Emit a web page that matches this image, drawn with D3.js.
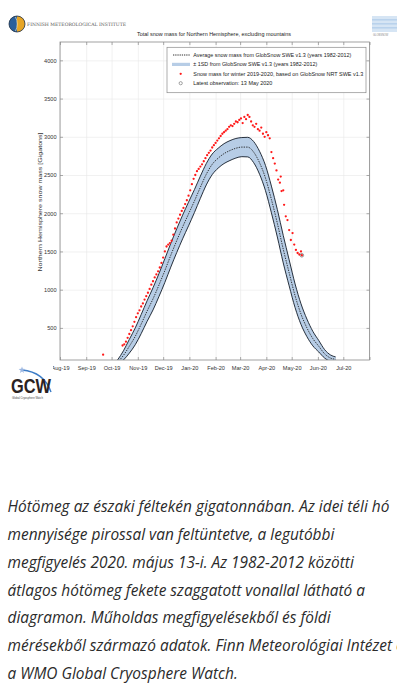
<!DOCTYPE html>
<html><head><meta charset="utf-8">
<script src="https://cdn.jsdelivr.net/npm/d3@7"></script>
<style>html,body{margin:0;padding:0;background:#fff;overflow:hidden}</style>
</head><body><svg id="c" width="397" height="692"></svg>
<script>
// ---------- data ----------
const chartTitle = "Total snow mass for Northern Hemisphere, excluding mountains";
const yAxisTitle = "Northern Hemisphere snow mass [Gigatons]";
const xTickDates = ["2019-08-01","2019-09-01","2019-10-01","2019-11-01","2019-12-01","2020-01-01","2020-02-01","2020-03-01","2020-04-01","2020-05-01","2020-06-01","2020-07-01","2020-08-01"];
const xTickLabels = ["Aug-19","Sep-19","Oct-19","Nov-19","Dec-19","Jan-20","Feb-20","Mar-20","Apr-20","May-20","Jun-20","Jul-20",""];
const yTicks = [500,1000,1500,2000,2500,3000,3500,4000];

const meanDates = ["2019-10-01","2019-10-08","2019-10-15","2019-10-22","2019-10-29","2019-11-05","2019-11-12","2019-11-19","2019-11-26","2019-12-03","2019-12-10","2019-12-17","2019-12-24","2019-12-31","2020-01-07","2020-01-14","2020-01-21","2020-01-28","2020-02-04","2020-02-11","2020-02-18","2020-02-25","2020-03-03","2020-03-10","2020-03-17","2020-03-24","2020-03-31","2020-04-07","2020-04-14","2020-04-21","2020-04-28","2020-05-05","2020-05-12","2020-05-19","2020-05-26","2020-06-02","2020-06-09","2020-06-16","2020-06-22"];
const meanValues = [-20,50,140,260,390,550,720,880,1060,1250,1450,1640,1820,1990,2160,2340,2510,2640,2720,2780,2820,2850,2865,2865,2800,2660,2460,2180,1870,1530,1220,920,680,500,360,260,160,105,90];
const sdValues   = [10,30,60,90,110,125,135,145,150,155,155,155,155,155,150,145,140,135,130,130,130,128,125,128,138,150,165,175,180,180,170,155,135,115,95,75,55,40,30];

const snowDates = ["2019-09-21","2019-10-14","2019-10-16","2019-10-18","2019-10-20","2019-10-22","2019-10-24","2019-10-26","2019-10-28","2019-10-30","2019-11-01","2019-11-03","2019-11-05","2019-11-07","2019-11-09","2019-11-11","2019-11-13","2019-11-15","2019-11-17","2019-11-19","2019-11-21","2019-11-23","2019-11-25","2019-11-27","2019-11-29","2019-12-01","2019-12-03","2019-12-05","2019-12-07","2019-12-09","2019-12-11","2019-12-13","2019-12-15","2019-12-17","2019-12-19","2019-12-21","2019-12-23","2019-12-25","2019-12-27","2019-12-29","2019-12-31","2020-01-02","2020-01-04","2020-01-06","2020-01-08","2020-01-10","2020-01-12","2020-01-14","2020-01-16","2020-01-18","2020-01-20","2020-01-22","2020-01-24","2020-01-26","2020-01-28","2020-01-30","2020-02-01","2020-02-03","2020-02-05","2020-02-07","2020-02-09","2020-02-11","2020-02-13","2020-02-15","2020-02-17","2020-02-19","2020-02-21","2020-02-23","2020-02-25","2020-02-27","2020-02-29","2020-03-02","2020-03-04","2020-03-06","2020-03-08","2020-03-10","2020-03-12","2020-03-14","2020-03-16","2020-03-18","2020-03-20","2020-03-22","2020-03-24","2020-03-26","2020-03-28","2020-03-30","2020-04-01","2020-04-03","2020-04-05","2020-04-07","2020-04-09","2020-04-11","2020-04-13","2020-04-15","2020-04-17","2020-04-18","2020-04-19","2020-04-21","2020-04-22","2020-04-24","2020-04-26","2020-04-28","2020-04-30","2020-05-02","2020-05-04","2020-05-06","2020-05-08","2020-05-10","2020-05-12","2020-05-13"];
const snowValues = [150,270,285,320,370,420,470,520,580,640,690,730,780,820,870,915,960,1010,1065,1110,1160,1200,1240,1290,1350,1420,1500,1565,1590,1610,1640,1720,1800,1880,1930,1980,2030,2070,2120,2170,2230,2300,2380,2450,2500,2550,2580,2610,2640,2680,2720,2760,2790,2820,2860,2890,2920,2950,2980,3010,3040,3060,3080,3100,3130,3150,3140,3170,3200,3190,3220,3240,3180,3260,3230,3285,3260,3200,3150,3130,3170,3100,3080,3120,3040,3000,3060,3020,2980,2800,2720,2650,2560,2440,2400,2480,2290,2300,2110,1960,1910,1780,1650,1740,1590,1520,1480,1460,1500,1450];
const latestDate = "2020-05-13";
const latestValue = 1450;

const legendLabels = [
  "Average snow mass from GlobSnow SWE v1.3 (years 1982-2012)",
  "\u00b1 1SD from GlobSnow SWE v1.3 (years 1982-2012)",
  "Snow mass for winter 2019-2020, based on GlobSnow NRT SWE v1.3",
  "Latest observation: 13 May 2020"
];
const legendLengths = [158,124,170,79];

const captionLines = [
  "Hótömeg az északi féltekén gigatonnában. Az idei téli hó",
  "mennyisége pirossal van feltüntetve, a legutóbbi",
  "megfigyelés 2020. május 13-i. Az 1982-2012 közötti",
  "átlagos hótömeg fekete szaggatott vonallal látható a",
  "diagramon. Műholdas megfigyelésekből és földi",
  "mérésekből származó adatok. Finn Meteorológiai Intézet és",
  "a WMO Global Cryosphere Watch."
];

// ---------- drawing ----------
const parse = d3.timeParse("%Y-%m-%d");
const svg = d3.select("#c");
const L = 60, R = 369.5, T = 42, B = 360;
const x = d3.scaleTime().domain([parse("2019-08-01"), parse("2020-08-01")]).range([L, R]);
const y = d3.scaleLinear().domain([80, 4240]).range([B, T]);
const xt = xTickDates.map(parse);
const font = "'Liberation Sans', Arial, sans-serif";

svg.append("clipPath").attr("id","plotclip").append("rect")
  .attr("x",L).attr("y",T).attr("width",R-L).attr("height",B-T);

// grid
const grid = svg.append("g");
grid.append("g").attr("transform",`translate(0,${B})`)
  .call(d3.axisBottom(x).tickValues(xt).tickSize(-(B-T)).tickFormat(""))
  .call(g=>{g.select(".domain").remove(); g.selectAll("line").attr("stroke","#e8e8e8").attr("stroke-width",0.6);});
grid.append("g").attr("transform",`translate(${L},0)`)
  .call(d3.axisLeft(y).tickValues(yTicks).tickSize(-(R-L)).tickFormat(""))
  .call(g=>{g.select(".domain").remove(); g.selectAll("line").attr("stroke","#e8e8e8").attr("stroke-width",0.6);});

// band and mean
const meanData = meanDates.map((d,i)=>({date:parse(d), m:meanValues[i], sd:sdValues[i]}));
const plot = svg.append("g").attr("clip-path","url(#plotclip)");
const curve = d3.curveMonotoneX;
plot.append("path").datum(meanData)
  .attr("d", d3.area().x(d=>x(d.date)).y0(d=>y(d.m-d.sd)).y1(d=>y(d.m+d.sd)).curve(curve))
  .attr("fill","#b7cde6");
plot.append("path").datum(meanData)
  .attr("d", d3.line().x(d=>x(d.date)).y(d=>y(d.m+d.sd)).curve(curve))
  .attr("fill","none").attr("stroke","#1c2633").attr("stroke-width",0.95);
plot.append("path").datum(meanData)
  .attr("d", d3.line().x(d=>x(d.date)).y(d=>y(d.m-d.sd)).curve(curve))
  .attr("fill","none").attr("stroke","#1c2633").attr("stroke-width",0.95);
plot.append("path").datum(meanData)
  .attr("d", d3.line().x(d=>x(d.date)).y(d=>y(d.m)).curve(curve))
  .attr("fill","none").attr("stroke","#1a1a1a").attr("stroke-width",0.85).attr("stroke-dasharray","1.4,1.1");

// red observations
plot.selectAll("circle.obs").data(snowDates.map((d,i)=>({date:parse(d), v:snowValues[i]})))
  .join("circle").attr("class","obs")
  .attr("cx",d=>x(d.date)).attr("cy",d=>y(d.v)).attr("r",1.15).attr("fill","#ff1a1a");
plot.append("circle").attr("cx",x(parse(latestDate))).attr("cy",y(latestValue)).attr("r",1.8)
  .attr("fill","none").attr("stroke","#555").attr("stroke-width",0.6);

// axes
const styleAxis = g=>{g.select(".domain").remove(); g.selectAll("line").attr("stroke","#777").attr("stroke-width",0.6);
  g.selectAll("text").attr("fill","#333").attr("font-family",font).attr("font-size",5.6);};
svg.append("g").attr("transform",`translate(0,${B})`)
  .call(d3.axisBottom(x).tickValues(xt).tickFormat((d,i)=>xTickLabels[i]).tickSizeInner(-3).tickSizeOuter(0).tickPadding(6))
  .call(styleAxis);
svg.append("g").attr("transform",`translate(0,${T})`)
  .call(d3.axisTop(x).tickValues(xt).tickFormat("").tickSizeInner(-3).tickSizeOuter(0))
  .call(styleAxis);
svg.append("g").attr("transform",`translate(${L},0)`)
  .call(d3.axisLeft(y).tickValues(yTicks).tickFormat(d3.format("d")).tickSizeInner(-3).tickSizeOuter(0).tickPadding(3.5))
  .call(styleAxis);
svg.append("g").attr("transform",`translate(${R},0)`)
  .call(d3.axisRight(y).tickValues(yTicks).tickFormat("").tickSizeInner(-3).tickSizeOuter(0))
  .call(styleAxis);
svg.append("rect").attr("x",L).attr("y",T).attr("width",R-L).attr("height",B-T)
  .attr("fill","none").attr("stroke","#8a8a8a").attr("stroke-width",0.8);

// titles
svg.append("text").attr("x",214).attr("y",35.5).attr("text-anchor","middle")
  .attr("font-family",font).attr("font-size",6.2).attr("fill","#222")
  .attr("textLength",154).attr("lengthAdjust","spacingAndGlyphs").text(chartTitle);
svg.append("text").attr("transform","translate(42,202) rotate(-90)").attr("text-anchor","middle")
  .attr("font-family",font).attr("font-size",6).attr("fill","#333")
  .attr("textLength",139).attr("lengthAdjust","spacingAndGlyphs").text(yAxisTitle);

// legend
const lg = svg.append("g");
lg.append("rect").attr("x",167).attr("y",47.3).attr("width",199).attr("height",45.4)
  .attr("fill","#fff").attr("stroke","#8a8a8a").attr("stroke-width",0.7);
const rowY = [55,64.4,73.8,83.2];
lg.append("line").attr("x1",173).attr("x2",190).attr("y1",rowY[0]).attr("y2",rowY[0])
  .attr("stroke","#1a1a1a").attr("stroke-width",0.9).attr("stroke-dasharray","1.3,0.9");
lg.append("rect").attr("x",172).attr("y",rowY[1]-1.6).attr("width",18).attr("height",3.2).attr("fill","#b7cde6");
lg.append("circle").attr("cx",180.7).attr("cy",rowY[2]).attr("r",1.15).attr("fill","#ff1a1a");
lg.append("circle").attr("cx",180.7).attr("cy",rowY[3]).attr("r",1.6).attr("fill","none").attr("stroke","#666").attr("stroke-width",0.6);
lg.selectAll("text.lg").data(legendLabels).join("text").attr("class","lg")
  .attr("x",193.3).attr("y",(d,i)=>rowY[i]+2).attr("font-family",font).attr("font-size",5.6).attr("fill","#222")
  .attr("textLength",(d,i)=>legendLengths[i]).attr("lengthAdjust","spacingAndGlyphs").text(d=>d);

// FMI logo
const fmi = svg.append("g");
fmi.append("path").attr("d","M17,16 A8,8 0 0,0 17,32 Z").attr("fill","#2a5f9c");
fmi.append("path").attr("d","M17,16 A8,8 0 0,1 17,32 Z").attr("fill","#e6a526");
fmi.append("circle").attr("cx",17).attr("cy",24).attr("r",8).attr("fill","none").attr("stroke","#1e2e44").attr("stroke-width",0.8);
fmi.append("path").attr("d","M15.5,17 Q19,24 15.5,31").attr("fill","none").attr("stroke","#f3e6c0").attr("stroke-width",0.7);
fmi.append("text").attr("x",27).attr("y",25.8).attr("font-family","'DejaVu Serif', serif").attr("font-size",4.6)
  .attr("fill","#555").attr("textLength",99).attr("lengthAdjust","spacingAndGlyphs").text("FINNISH METEOROLOGICAL INSTITUTE");

// GlobSnow logo (top right)
const gs = svg.append("g");
gs.append("rect").attr("x",372).attr("y",16).attr("width",25).attr("height",16).attr("fill","#d6e5f4");
[19,23,27].forEach(v=>gs.append("rect").attr("x",372).attr("y",v).attr("width",25).attr("height",1.6).attr("fill","#b9d2ec"));
gs.append("text").attr("x",373).attr("y",35.5).attr("font-family",font).attr("font-size",2.6).attr("fill","#888").text("GLOBSNOW");

// white area of the GCW logo image (hides part of first tick label)
svg.append("rect").attr("x",0).attr("y",362).attr("width",53).attr("height",42).attr("fill","#fff");
const gcw = svg.append("g");
gcw.append("path").attr("d","M22,370 Q44,372 51,392").attr("fill","none").attr("stroke","#3c7cc6").attr("stroke-width",1.4);
const star = d3.range(10).map(i=>{const a=-Math.PI/2+i*Math.PI/5, r=i%2?1.4:3.6; return [22+r*Math.cos(a),370+r*Math.sin(a)];});
gcw.append("path").attr("d","M"+star.join("L")+"Z").attr("fill","#9bb7e2");
gcw.append("text").attr("x",11).attr("y",393).attr("font-family","'Liberation Sans', Arial, sans-serif").attr("font-weight","bold")
  .attr("font-size",21).attr("fill","#2b2222").attr("textLength",40).attr("lengthAdjust","spacingAndGlyphs").text("GCW");
gcw.append("text").attr("x",12).attr("y",398.5).attr("font-family",font).attr("font-size",2.6).attr("fill","#444")
  .attr("textLength",31).attr("lengthAdjust","spacingAndGlyphs").text("Global Cryosphere Watch");

// caption
const cap = svg.append("g").attr("font-family","'Open Sans', sans-serif").attr("font-style","italic").attr("fill","#2b2b2b");
const capTexts = cap.selectAll("text").data(captionLines).join("text")
  .attr("x",7.5).attr("y",(d,i)=>512.3+i*27.78).attr("font-size",17).text(d=>d);
const w0 = capTexts.node().getComputedTextLength();
const fs = 17*382/w0;
capTexts.attr("font-size",fs);
</script></body></html>
